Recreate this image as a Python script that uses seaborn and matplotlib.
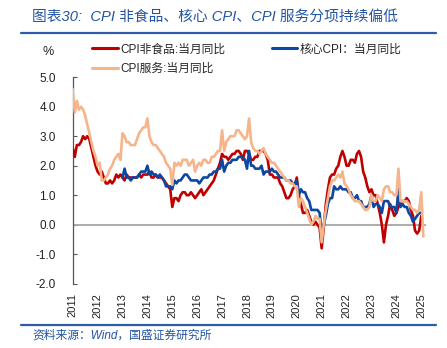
import numpy as np
import pandas as pd
import matplotlib
matplotlib.use("Agg")
import matplotlib.pyplot as plt
import seaborn as sns

nan = np.nan

# Monthly year-on-year rates (%), 2011-01 .. 2025-02
non_food = [
    2.6, 2.3, 2.7, 2.7, 2.8, 3.0, 2.9, 3.0, 2.9, 2.6, 2.3, 2.0,   # 2011
    1.8, 1.7, 1.8, 1.6, 1.4, 1.4, 1.5, 1.4, 1.5, 1.7, 1.6, 1.7,   # 2012
    1.6, 1.5, 1.7, 1.6, 1.6, 1.6, 1.6, 1.6, 1.7, 1.6, 1.7, 1.7,   # 2013
    1.7, 1.8, 1.6, 1.6, 1.7, 1.6, 1.6, 1.6, 1.5, 1.4, 1.3, 1.2,   # 2014
    0.6, 0.9, 0.9, 0.8, 1.0, 1.1, 1.1, 1.0, 1.0, 1.1, 1.0, 0.9,   # 2015
    1.0, 1.1, 1.2, 1.0, 1.1, 1.2, 1.3, 1.4, 1.5, 1.7, 1.9, 2.1,   # 2016
    2.4, 2.3, 2.3, 2.2, 2.3, 2.4, 2.4, 2.5, 2.5, 2.4, 2.2, 2.5,   # 2017
    2.5, 2.4, 2.2, 2.2, 2.3, 2.3, 2.5, 2.5, 2.5, 2.4, 2.2, 1.7,   # 2018
    1.7, 1.6, 1.6, 1.6, 1.4, 1.3, 1.1, 0.9, 0.9, 1.0, 1.2, 1.3,   # 2019
    1.6, 1.0, 0.7, 0.4, 0.4, 0.5, 0.3, 0.1, 0.0, 0.1, 0.0, -0.1,  # 2020
    -0.8, -0.1, 0.7, 1.2, 1.6, 1.7, 1.7, 1.9, 2.0, 2.3, 2.5, 2.3,  # 2021
    2.0, 2.0, 2.2, 2.2, 2.1, 2.4, 2.5, 2.3, 1.8, 1.6, 1.3, 1.1,   # 2022
    1.2, 1.0, 1.0, 0.7, 0.4, 0.0, -0.6, 0.0, 0.3, 0.7, 0.5, 0.3,  # 2023
    0.4, 0.6, 0.8, 0.8, 0.8, 0.9, 0.8, 0.5, 0.3, -0.2, -0.3, -0.2,  # 2024
    0.3, nan,                                                     # 2025
]

core = [nan] * 24 + [
    1.6, 1.9, 1.6, 1.6, 1.5, 1.6, 1.6, 1.6, 1.7, 1.8, 1.8, 1.8,   # 2013
    2.0, 1.7, 1.8, 1.7, 1.7, 1.6, 1.7, 1.6, 1.5, 1.3, 1.3, 1.3,   # 2014
    1.2, 1.5, 1.4, 1.5, 1.5, 1.6, 1.7, 1.7, 1.6, 1.5, 1.5, 1.5,   # 2015
    1.5, 1.4, 1.5, 1.6, 1.6, 1.6, 1.7, 1.7, 1.8, 1.8, 1.9, 1.9,   # 2016
    2.2, 1.8, 2.0, 2.1, 2.1, 2.2, 2.2, 2.2, 2.3, 2.3, 2.3, 2.2,   # 2017
    1.9, 2.5, 2.0, 2.0, 1.9, 1.9, 1.9, 2.0, 1.7, 1.8, 1.8, 1.8,   # 2018
    1.9, 1.8, 1.8, 1.7, 1.6, 1.6, 1.6, 1.5, 1.5, 1.5, 1.4, 1.4,   # 2019
    1.5, 1.0, 1.2, 1.1, 1.1, 0.9, 0.8, 0.5, 0.5, 0.5, 0.5, 0.4,   # 2020
    -0.3, 0.0, 0.3, 0.7, 0.9, 0.9, 1.3, 1.2, 1.2, 1.3, 1.2, 1.2,  # 2021
    1.2, 1.1, 1.1, 0.9, 0.9, 1.0, 0.8, 0.8, 0.6, 0.6, 0.6, 0.7,   # 2022
    1.0, 0.6, 0.7, 0.7, 0.6, 0.4, 0.8, 0.8, 0.8, 0.6, 0.6, 0.6,   # 2023
    0.4, 1.2, 0.6, 0.7, 0.6, 0.6, 0.4, 0.3, 0.1, 0.2, 0.3, 0.4,   # 2024
    0.4, nan,                                                     # 2025
]

services = [
    4.6, 3.8, 4.2, 3.9, 4.0, 3.9, 3.7, 3.4, 3.1, 2.8, 2.5, 2.3,   # 2011
    2.0, 2.1, 1.5, 1.5, 1.6, 1.7, 1.9, 2.0, 2.2, 2.3, 2.4, 2.2,   # 2012
    3.1, 3.0, 2.8, 2.8, 2.7, 2.7, 2.7, 2.9, 3.1, 3.2, 3.3, 3.3,   # 2013
    3.6, 3.0, 2.8, 2.7, 2.7, 2.6, 2.5, 2.4, 2.3, 2.1, 2.0, 1.9,   # 2014
    1.35, 2.1, 2.0, 2.1, 2.0, 2.2, 2.2, 2.2, 2.0, 2.1, 2.2, 1.8,  # 2015
    2.0, 2.1, 2.0, 2.2, 2.2, 2.1, 2.1, 2.3, 2.3, 2.4, 2.5, 2.5,   # 2016
    3.2, 2.5, 2.8, 2.9, 3.0, 3.0, 3.0, 3.2, 3.2, 3.1, 3.0, 2.9,   # 2017
    3.0, 3.6, 2.8, 2.6, 2.5, 2.5, 2.4, 2.5, 2.6, 2.4, 2.3, 2.2,   # 2018
    2.1, 2.1, 2.0, 1.9, 1.8, 1.7, 1.6, 1.5, 1.5, 1.4, 1.4, 1.3,   # 2019
    1.3, 0.6, 0.9, 0.8, 0.6, 0.4, 0.2, 0.0, 0.1, 0.3, 0.2, 0.2,   # 2020
    -0.6, 0.0, 0.5, 0.9, 1.3, 1.5, 1.5, 1.6, 1.7, 1.6, 1.8, 1.4,  # 2021
    1.3, 1.2, 1.0, 0.9, 0.8, 0.8, 0.8, 0.7, 0.6, 0.5, 0.5, 0.6,   # 2022
    1.0, 0.8, 0.8, 1.0, 0.9, 0.8, 1.2, 1.3, 1.3, 1.1, 1.1, 1.0,   # 2023
    1.0, 1.9, 0.8, 0.8, 0.8, 0.8, 0.7, 0.6, 0.5, 0.5, 0.4, 0.5,   # 2024
    1.1, -0.4,                                                    # 2025
]

series_names = ["CPI非食品:当月同比", "核心CPI：当月同比", "CPI服务:当月同比"]
series_colors = ["#C00000", "#0C47A1", "#F6B48A"]
year_ticks = list(range(2011, 2026))
y_ticks = [-2.0, -1.0, 0.0, 1.0, 2.0, 3.0, 4.0, 5.0]

n = len(services)
t = 2011 + np.arange(n) / 12.0

df = pd.concat([
    pd.DataFrame({"t": t, "value": vals, "series": name})
    for name, vals in zip(series_names, [non_food, core, services])
], ignore_index=True)

sns.set_theme(style="white")
plt.rcParams["font.family"] = ["Liberation Sans", "Noto Sans CJK SC", "DejaVu Sans"]

W, H = 447, 348
fig = plt.figure(figsize=(W / 100, H / 100), dpi=100)

def fx(px):
    return px / W

def fy(py):
    return 1 - py / H

ax = fig.add_axes([fx(72.7), fy(283.7), fx(426) - fx(72.7), fy(77.2) - fy(283.7)])

ax.axhline(0, color="#A6A6A6", lw=1.3, zorder=1)
sns.lineplot(data=df, x="t", y="value", hue="series", hue_order=series_names,
             palette=dict(zip(series_names, series_colors)), linewidth=1.9,
             ax=ax, legend=False, estimator=None, sort=False)
for ln, z in zip(ax.get_lines()[1:], [3, 4, 5]):
    ln.set_zorder(z)
    ln.set_solid_joinstyle("round")

ax.set_xlim(2011, 2011 + 14.19)
ax.set_ylim(-2, 5)
ax.set_xticks(year_ticks)
ax.set_xticklabels([str(y) for y in year_ticks], rotation=90, fontsize=8, color="#222222")
ax.set_yticks(y_ticks)
ax.set_yticklabels([f"{v:.1f}" for v in y_ticks], fontsize=8.5, color="#222222")
ax.tick_params(axis="x", length=0, pad=7)
ax.tick_params(axis="y", direction="in", length=3, width=0.8, color="#555555", pad=12, left=True)
ax.set_xlabel("")
ax.set_ylabel("")
for s in ["top", "right", "bottom"]:
    ax.spines[s].set_visible(False)
ax.spines["left"].set_color("#555555")
ax.spines["left"].set_linewidth(0.9)

# Title, rules and source note
fig.text(fx(32), fy(17), "图表30:  CPI 非食品、核心 CPI、CPI 服务分项持续偏低",
         fontsize=10.6, color="#2254A3", style="italic", va="center", ha="left")
fig.add_artist(plt.Line2D([fx(21), fx(436)], [fy(32.5), fy(32.5)], color="#2E5CA6", lw=1.6))
fig.add_artist(plt.Line2D([fx(21), fx(436)], [fy(325), fy(325)], color="#2E5CA6", lw=1.6))
fig.text(fx(32), fy(335.5), "资料来源：Wind，国盛证券研究所",
         fontsize=8.5, color="#2254A3", style="italic", va="center", ha="left")
fig.text(fx(47.7), fy(51.7), "%", fontsize=9, color="#222222", va="center", ha="center")

handles = [plt.Line2D([], [], color=c, lw=2.2) for c in series_colors]
order = [0, 2, 1]
fig.legend([handles[i] for i in order], [series_names[i] for i in order],
           loc="upper left", bbox_to_anchor=(fx(92), fy(43.5)), ncol=2, frameon=False,
           fontsize=8.5, handlelength=2.2, handletextpad=0.2, columnspacing=3.9,
           labelspacing=0.62, borderpad=0, borderaxespad=0)

fig.savefig("out.png", dpi=100)
